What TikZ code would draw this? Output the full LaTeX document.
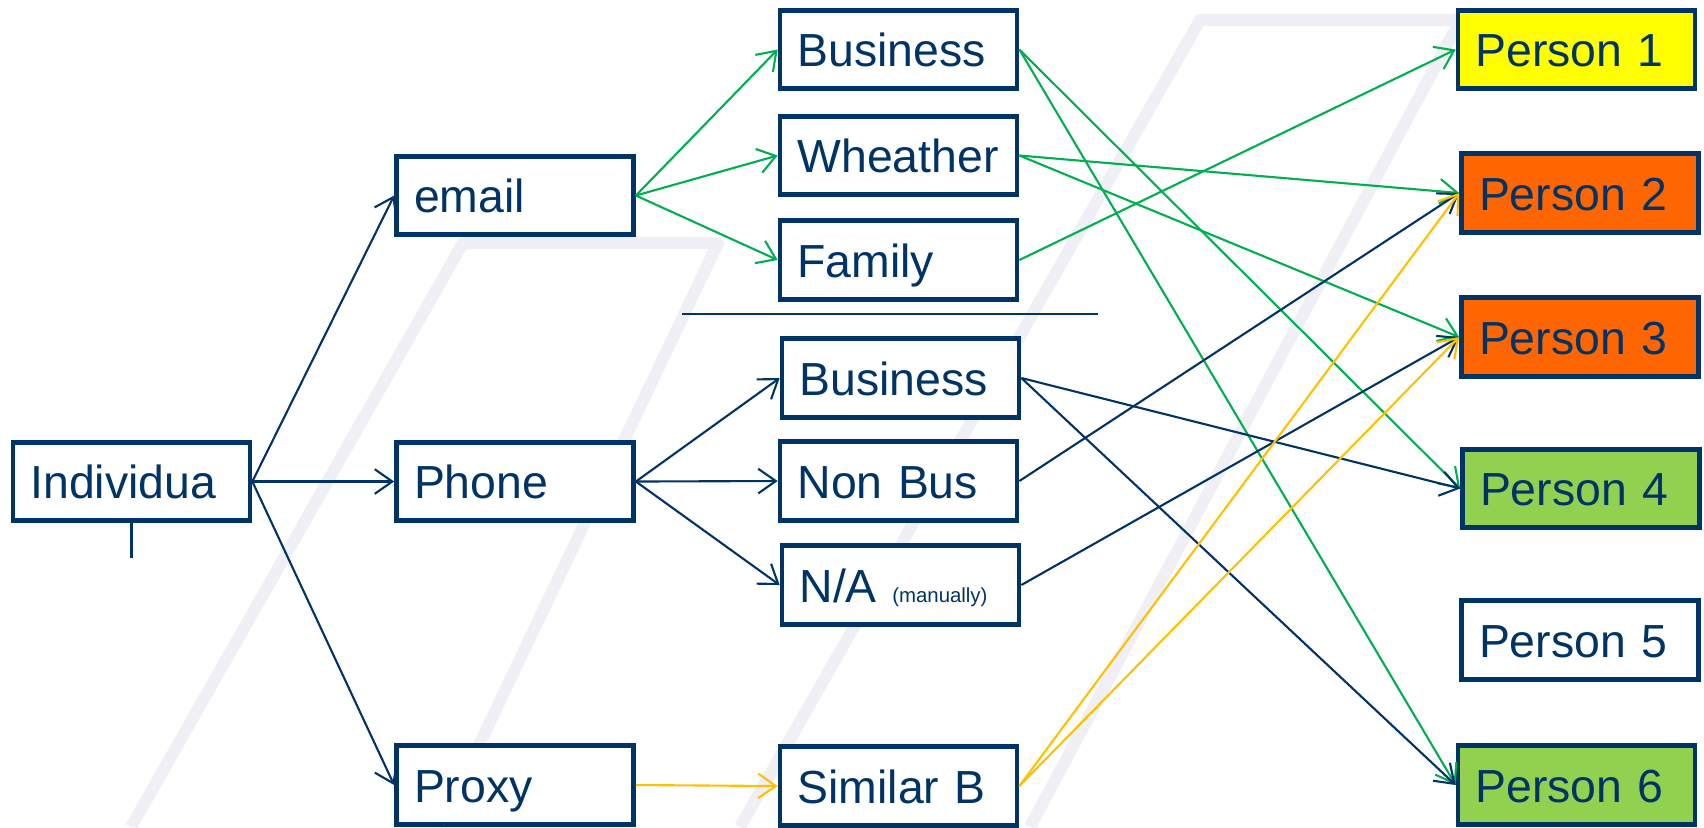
\documentclass[tikz,border=0pt]{standalone}
\usepackage{fontspec}
\setmainfont{Liberation Sans}
\usepackage{xcolor}
\usetikzlibrary{arrows.meta}

\definecolor{navy}{HTML}{003366}
\definecolor{lgreen}{HTML}{00B050}
\definecolor{amber}{HTML}{FFC000}
\definecolor{pyellow}{HTML}{FFFF00}
\definecolor{porange}{HTML}{FF6600}
\definecolor{pgreen}{HTML}{92D050}
\definecolor{bandgray}{HTML}{EFEFF5}

\begin{document}
\begin{tikzpicture}[
    box/.style={draw=navy, fill=white, line width=0.047cm, text=navy,
      font=\fontsize{13.2}{15}\selectfont, text width=2.02cm, align=left,
      inner xsep=0.175cm, minimum height=0.76cm,
      text height=12.7pt, text depth=3pt},
    link/.style={line width=0.6pt, -{Straight Barb[length=5pt,width=7pt]}},
    band/.style={line width=0.12cm, bandgray, line join=round}
  ]
      \useasboundingbox (0,0) rectangle (17.04,-8.27);

      % background bands
      \draw[band] (1.31,-8.27) -- (4.63,-2.43) -- (7.18,-2.43) -- (4.40,-8.27);
      \draw[band] (7.40,-8.27) -- (12.00,-0.20) -- (14.60,-0.20) -- (10.30,-8.27);

      % left column
      \node[box] (ind) at (1.315,-4.815) {Individua};
      \draw[navy, line width=0.03cm] (ind.south) -- ++(0,-0.35);

      \node[box] (email) at (5.15,-1.955) {email};
      \node[box] (phone) at (5.15,-4.815) {Phone};
      \node[box] (proxy) at (5.15,-7.85) {Proxy};

      % middle column
      \node[box] (mbus) at (8.985,-0.495) {Business};
      \node[box] (weather) at (8.985,-1.555) {Wheather};
      \node[box] (family) at (8.985,-2.60) {Family};
      \node[box] (pbus) at (9.005,-3.78) {Business};
      \node[box] (nonbus) at (8.985,-4.81) {Non Bus};
      \node[box] (na) at (9.005,-5.85) {N/A {\fontsize{5.8}{7}\selectfont (manually)}};
      \node[box] (similar) at (8.985,-7.86) {Similar B};

      \draw[navy, line width=0.02cm] (6.82,-3.14) -- (10.98,-3.14);

      % persons
      \node[box, fill=pyellow] (p1) at (15.765,-0.495) {Person 1};
      \node[box, fill=porange] (p2) at (15.80,-1.93) {Person 2};
      \node[box, fill=porange] (p3) at (15.80,-3.37) {Person 3};
      \node[box, fill=pgreen] (p4) at (15.81,-4.885) {Person 4};
      \node[box] (p5) at (15.80,-6.40) {Person 5};
      \node[box, fill=pgreen] (p6) at (15.765,-7.85) {Person 6};

      % channels
      \draw[link, navy] (ind.east) -- (email.west);
      \draw[link, navy] (ind.east) -- (phone.west);
      \draw[link, navy] (ind.east) -- (proxy.west);

      \draw[link, lgreen] (email.east) -- (mbus.west);
      \draw[link, lgreen] (email.east) -- (weather.west);
      \draw[link, lgreen] (email.east) -- (family.west);

      \draw[link, navy] (phone.east) -- (pbus.west);
      \draw[link, navy] (phone.east) -- (nonbus.west);
      \draw[link, navy] (phone.east) -- (na.west);

      \draw[link, amber] (proxy.east) -- (similar.west);

      % to persons
      \draw[link, lgreen] (mbus.east) -- (p4.west);
      \draw[link, lgreen] (mbus.east) -- (p6.west);
      \draw[link, lgreen] (weather.east) -- (p2.west);
      \draw[link, lgreen] (weather.east) -- (p3.west);
      \draw[link, lgreen] (family.east) -- (p1.west);

      \draw[link, navy] (pbus.east) -- (p4.west);
      \draw[link, navy] (pbus.east) -- (p6.west);
      \draw[link, navy] (nonbus.east) -- (p2.west);
      \draw[link, navy] (na.east) -- (p3.west);

      \draw[link, amber] (similar.east) -- (p2.west);
      \draw[link, amber] (similar.east) -- (p3.west);
    \end{tikzpicture}
\end{document}
